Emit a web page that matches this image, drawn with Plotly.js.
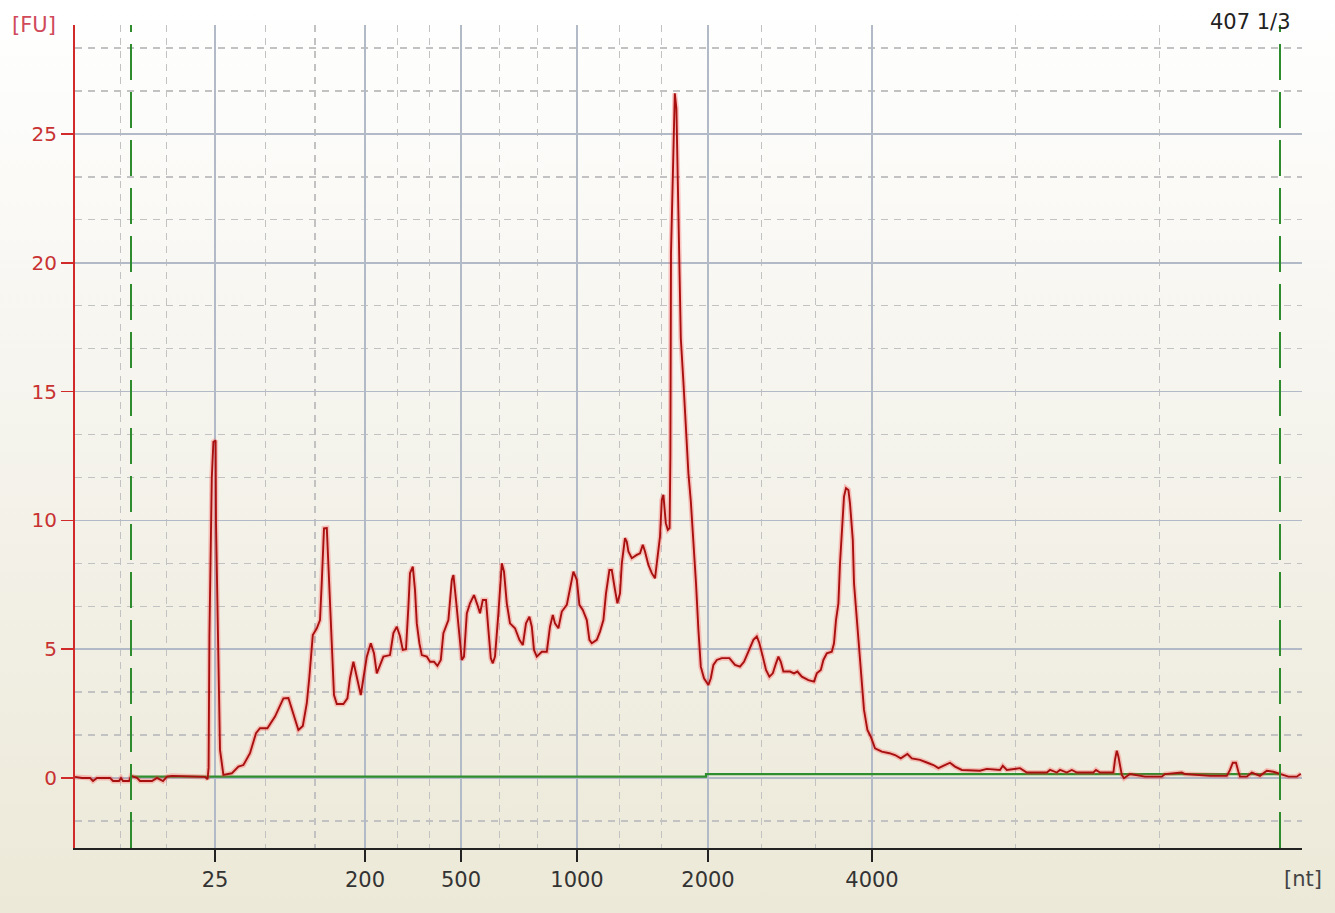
<!DOCTYPE html>
<html>
<head>
<meta charset="utf-8">
<script src="https://cdn.plot.ly/plotly-3.0.1.min.js"></script>
<style>
  html, body { margin: 0; padding: 0; }
  #chart { width: 1335px; height: 913px; background: linear-gradient(to bottom, #ffffff 0%, #f6f5ef 40%, #ece9d8 100%); }
</style>
</head>
<body>
<div id="chart"></div>
<script>
// Migration time (s) of the sample trace and its fluorescence (FU)
const timeSec = [
  15.75,16.10,16.50,16.65,16.85,17.50,17.65,17.95,18.05,18.15,18.45,18.55,18.85,19.00,19.60,19.85,20.15,20.35,20.60,22.25,22.38,
  22.43,22.47,22.59,22.67,22.78,22.80,22.92,23.00,23.17,23.59,23.92,24.17,24.50,24.80,25.00,25.37,25.75,26.17,26.42,26.64,26.92,
  27.14,27.34,27.47,27.64,27.84,28.00,28.09,28.20,28.34,28.42,28.50,28.62,28.70,28.84,29.17,29.37,29.50,29.67,29.84,30.04,30.17,
  30.34,30.54,30.70,30.84,31.00,31.17,31.50,31.67,31.84,32.00,32.14,32.30,32.42,32.50,32.64,32.75,32.84,32.97,33.09,33.34,33.50,
  33.70,33.87,34.04,34.17,34.42,34.59,34.67,34.80,34.92,35.09,35.20,35.34,35.50,35.70,35.87,36.00,36.14,36.30,36.42,36.54,36.64,
  36.75,36.92,37.09,37.20,37.34,37.50,37.75,37.97,38.14,38.30,38.47,38.59,38.70,38.84,39.09,39.34,39.50,39.64,39.75,39.92,40.09,
  40.34,40.50,40.67,40.84,40.97,41.14,41.34,41.47,41.59,41.84,42.00,42.17,42.30,42.47,42.59,42.75,42.87,43.00,43.09,43.25,43.34,
  43.42,43.59,43.84,44.00,44.14,44.25,44.42,44.59,44.75,44.87,45.00,45.09,45.17,45.29,45.39,45.48,45.52,45.55,45.64,45.74,45.82,
  45.92,46.04,46.17,46.30,46.42,46.54,46.67,46.80,46.92,47.04,47.20,47.42,47.54,47.67,47.84,48.09,48.47,48.75,49.00,49.20,49.42,
  49.67,49.84,49.97,50.14,50.30,50.47,50.64,50.80,50.92,51.04,51.17,51.50,51.70,51.87,52.09,52.42,52.70,52.84,53.04,53.17,53.34,
  53.59,53.70,53.80,53.92,54.00,54.09,54.20,54.30,54.42,54.50,54.64,54.70,54.84,54.97,55.09,55.20,55.37,55.54,55.75,56.09,56.47,
  56.75,57.04,57.37,57.59,58.00,58.37,58.67,58.92,59.50,59.75,60.09,61.00,61.34,62.00,62.14,62.34,63.00,63.34,64.34,64.50,64.84,
  65.00,65.34,65.59,65.84,66.67,66.80,67.00,67.67,67.75,67.84,67.92,68.00,68.09,68.20,68.50,69.25,70.09,70.25,70.84,71.09,71.25,
  72.50,73.34,73.50,73.64,73.80,73.92,74.00,74.34,74.59,75.00,75.34,75.67,76.00,76.42,76.84,77.04
];
const fluorescence = [
  0.04,0.00,0.00,-0.12,0.00,0.00,-0.12,-0.12,0.00,-0.12,-0.12,0.08,0.00,-0.12,-0.12,0.00,-0.12,0.05,0.08,0.04,-0.05,
  0.40,5.48,11.65,13.05,13.10,9.90,4.19,1.09,0.12,0.18,0.44,0.50,0.96,1.74,1.93,1.93,2.38,3.09,3.10,2.51,1.86,
  2.02,2.90,3.93,5.55,5.81,6.13,7.62,9.69,9.70,8.27,6.91,4.45,3.22,2.87,2.87,3.09,3.87,4.51,3.93,3.22,3.87,
  4.71,5.23,4.84,4.06,4.39,4.71,4.77,5.62,5.87,5.50,4.97,5.00,6.65,7.95,8.20,7.30,6.00,5.23,4.77,4.71,4.51,
  4.51,4.35,4.58,5.62,6.13,7.69,7.88,6.91,5.87,4.58,4.71,6.39,6.78,7.10,6.72,6.39,6.91,6.91,5.75,4.65,4.45,
  4.71,6.39,8.33,8.01,6.78,6.00,5.81,5.36,5.16,6.00,6.26,5.87,4.97,4.71,4.90,4.90,5.87,6.33,6.00,5.81,6.46,
  6.72,7.36,8.01,7.69,6.72,6.52,6.13,5.36,5.23,5.36,5.68,6.13,7.17,8.07,8.07,7.30,6.78,7.17,8.33,9.31,9.17,
  8.79,8.53,8.66,8.72,9.05,8.79,8.27,7.95,7.75,8.46,9.37,10.79,10.99,9.89,9.63,9.70,12.54,20.37,23.93,26.58,26.00,
  21.60,17.07,15.38,13.25,11.83,10.75,9.20,7.56,5.75,4.32,3.87,3.61,3.87,4.39,4.58,4.65,4.65,4.39,4.32,4.51,4.90,
  5.36,5.49,5.23,4.71,4.19,3.93,4.06,4.45,4.71,4.51,4.13,4.13,4.06,4.13,3.93,3.80,3.74,4.06,4.19,4.58,4.84,
  4.90,5.23,6.13,6.78,8.33,9.56,10.92,11.25,11.18,10.66,9.24,7.56,6.13,4.97,3.54,2.64,1.86,1.60,1.15,1.02,0.96,
  0.89,0.76,0.93,0.76,0.70,0.59,0.50,0.38,0.59,0.44,0.31,0.28,0.35,0.31,0.47,0.31,0.38,0.21,0.21,0.31,0.21,
  0.31,0.21,0.31,0.21,0.21,0.31,0.21,0.21,0.70,1.06,0.83,0.44,0.12,-0.01,0.15,0.05,0.05,0.15,0.21,0.21,0.15,
  0.08,0.08,0.31,0.59,0.59,0.24,0.05,0.05,0.21,0.08,0.28,0.24,0.16,0.05,0.05,0.16
];

// Baseline (green) between the lower marker and the end of the window
const baselineT = [18.55, 47.30, 47.30, 76.00];
const baselineFU = [0.05, 0.05, 0.15, 0.15];

// Region markers (green dashed verticals)
const markerTimes = [18.55, 76.00];

// Ladder sizes shown on the x axis, at their migration times
const ladderTimes = [22.75, 30.25, 35.05, 40.85, 47.40, 55.60];
const ladderLabels = ['25', '200', '500', '1000', '2000', '4000'];
const minorGridTimes = [18.04, 20.34, 25.27, 27.75, 31.87, 33.47, 36.99, 38.89, 42.97, 45.07, 50.09, 52.79, 62.79, 69.99];

const yTicks = [0, 5, 10, 15, 20, 25];
const sampleLabel = '407 1/3';

const FONT = 'DejaVu Sans, Verdana, sans-serif';

const traces = [
  { x: baselineT, y: baselineFU, type: 'scatter', mode: 'lines',
    line: { color: '#2f8f2f', width: 2.2 }, hoverinfo: 'skip', showlegend: false },
  { x: timeSec, y: fluorescence, type: 'scatter', mode: 'lines',
    line: { color: 'rgba(255,60,60,0.28)', width: 5 }, hoverinfo: 'skip', showlegend: false },
  { x: timeSec, y: fluorescence, type: 'scatter', mode: 'lines',
    line: { color: '#a81010', width: 1.9 }, hoverinfo: 'skip', showlegend: false }
];

const shapes = markerTimes.map(t => ({
  type: 'line', xref: 'x', yref: 'paper', x0: t, x1: t, y0: 0, y1: 1,
  line: { color: '#2e8b2e', width: 2, dash: '36px,12px' }, layer: 'above'
}));

const layout = {
  width: 1335, height: 913,
  margin: { l: 75, r: 33, t: 25, b: 65 },
  paper_bgcolor: 'rgba(0,0,0,0)',
  plot_bgcolor: 'rgba(0,0,0,0)',
  font: { family: FONT, size: 21, color: '#333' },
  showlegend: false,
  xaxis: {
    range: [15.75, 77.1],
    tickmode: 'array', tickvals: ladderTimes, ticktext: ladderLabels,
    showline: true, linecolor: '#222', linewidth: 2,
    ticks: 'outside', ticklen: 12, tickwidth: 2, tickcolor: '#222',
    tickfont: { family: FONT, size: 21, color: '#333' },
    showgrid: true, gridcolor: '#b2bac8', gridwidth: 1.5,
    zeroline: false,
    minor: { tickmode: 'array', tickvals: minorGridTimes, showgrid: true,
             gridcolor: '#c2c2c2', gridwidth: 1.3, griddash: '7px,6px', ticks: '' }
  },
  yaxis: {
    range: [-2.72, 29.23],
    tickmode: 'array', tickvals: yTicks,
    showline: true, linecolor: '#d02a2a', linewidth: 2,
    ticks: 'outside', ticklen: 12, tickwidth: 1.5, tickcolor: '#d02a2a',
    tickfont: { family: FONT, size: 20, color: '#c83232' },
    showgrid: true, gridcolor: '#b2bac8', gridwidth: 1.5,
    zeroline: false,
    minor: { dtick: 5 / 3, tick0: 0, showgrid: true,
             gridcolor: '#c2c2c2', gridwidth: 1.3, griddash: '7px,6px', ticks: '' }
  },
  shapes: shapes,
  annotations: [
    { text: '[FU]', xref: 'paper', yref: 'paper', x: -0.0334, y: 1.0,
      xanchor: 'center', yanchor: 'middle', showarrow: false,
      font: { family: FONT, size: 21, color: '#d04a5a' } },
    { text: sampleLabel, xref: 'paper', yref: 'paper', x: 0.9927, y: 1.0036,
      xanchor: 'right', yanchor: 'middle', showarrow: false,
      font: { family: FONT, size: 21, color: '#222' } },
    { text: '[nt]', xref: 'paper', yref: 'paper', x: 1.0012, y: -0.0377,
      xanchor: 'center', yanchor: 'middle', showarrow: false,
      font: { family: FONT, size: 21, color: '#444' } }
  ]
};

Plotly.newPlot('chart', traces, layout, { staticPlot: true, displayModeBar: false });
</script>
</body>
</html>
